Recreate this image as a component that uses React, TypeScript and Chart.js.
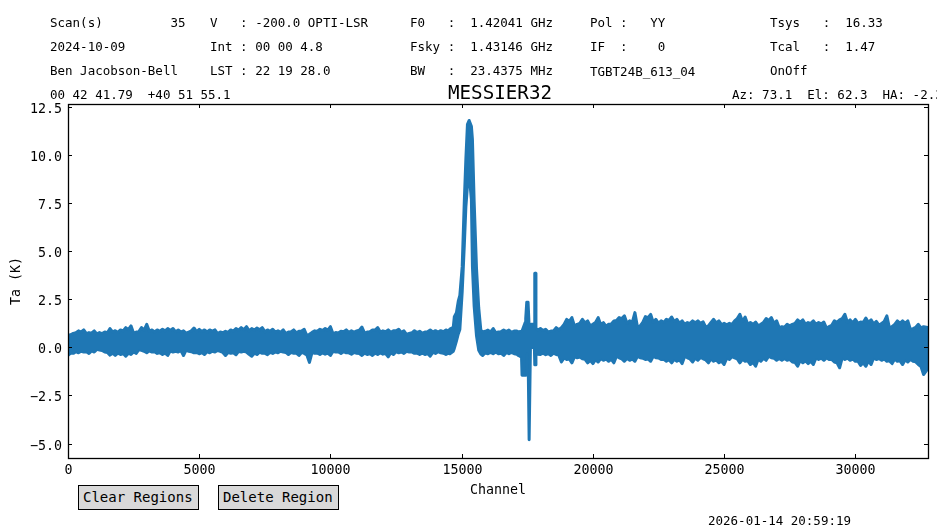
import { useEffect, useRef } from "react"
import { Chart, registerables } from "chart.js"

Chart.register(...registerables)

const MONO = "'DejaVu Sans Mono'"
const LINE_COLOR = "#1f77b4"

const channels = [
  0, 100, 200, 300, 400, 500, 600, 700, 800, 900, 1000, 1100, 1200, 1300, 1400, 1500, 1600, 1700, 1800, 1900,
  2000, 2100, 2200, 2300, 2400, 2500, 2600, 2700, 2800, 2900, 3000, 3100, 3200, 3300, 3400, 3500, 3600, 3700, 3800, 3900,
  4000, 4100, 4200, 4300, 4400, 4500, 4600, 4700, 4800, 4900, 5000, 5100, 5200, 5300, 5400, 5500, 5600, 5700, 5800, 5900,
  6000, 6100, 6200, 6300, 6400, 6500, 6600, 6700, 6800, 6900, 7000, 7100, 7200, 7300, 7400, 7500, 7600,
  7700, 7800, 7900, 8000, 8100, 8200, 8300, 8400, 8500, 8600, 8700, 8800, 8900, 9000, 9100, 9200, 9300, 9400, 9500, 9600,
  9700, 9800, 9900, 10000, 10100, 10200, 10300, 10400, 10500, 10600, 10700, 10800, 10900, 11000, 11100, 11200, 11300, 11400,
  11500, 11600, 11700, 11800, 11900, 12000, 12100, 12200, 12300, 12400, 12500, 12600, 12700, 12800, 12900, 13000, 13100, 13200,
  13300, 13400, 13500, 13600, 13700, 13800, 13900, 14000, 14100, 14200, 14300, 14400,
  // HI line
  14500, 14550, 14680, 14720, 14800, 14870, 14930, 15020, 15100, 15160, 15220, 15285, 15370, 15410, 15475, 15565, 15650, 15730,
  15800, 15900, 16000, 16100, 16200, 16300, 16400, 16500, 16600, 16700, 16800, 16900, 17000,
  // RFI spikes
  17100, 17160, 17280, 17300, 17420, 17440, 17480, 17530, 17570, 17585, 17620, 17650, 17770, 17785, 17815, 17830, 17900,
  18000, 18100, 18200, 18300, 18400, 18500, 18600, 18700, 18800, 18900, 19000, 19100, 19200, 19300, 19400, 19500, 19600, 19700, 19800, 19900,
  20000, 20100, 20200, 20300, 20400, 20500, 20600, 20700, 20800, 20900, 21000, 21100, 21200, 21300, 21400, 21500, 21600, 21700, 21800, 21900,
  22000, 22100, 22200, 22300, 22400, 22500, 22600, 22700, 22800, 22900, 23000, 23100, 23200, 23300, 23400, 23500, 23600, 23700, 23800, 23900,
  24000, 24100, 24200, 24300, 24400, 24500, 24600, 24700, 24800, 24900, 25000,
  25100, 25200, 25300, 25400, 25500, 25600, 25700, 25800, 25900, 26000, 26100, 26200, 26300, 26400, 26500, 26600, 26700, 26800, 26900, 27000,
  27100, 27200, 27300, 27400, 27500, 27600, 27700, 27800, 27900, 28000, 28100, 28200, 28300, 28400, 28500, 28600, 28700, 28800, 28900, 29000,
  29100, 29200, 29300, 29400, 29500, 29600, 29700, 29800, 29900, 30000, 30100, 30200, 30300, 30400, 30500, 30600, 30700, 30800, 30900, 31000,
  31100, 31200, 31300, 31400, 31500, 31600, 31700, 31800, 31900, 32000, 32100, 32200, 32300, 32400, 32500, 32600, 32768,
]

const upperTa = [
  0.63, 0.66, 0.73, 0.76, 0.86, 0.8, 0.91, 0.72, 0.77, 0.74, 0.86, 0.7, 0.77, 0.72, 0.8, 0.76, 0.98, 0.8, 0.87, 0.78,
  0.91, 0.86, 1.03, 0.92, 1.12, 0.74, 0.8, 0.82, 1.03, 0.9, 1.2, 0.84, 0.91, 0.8, 0.91, 0.84, 0.94, 0.86, 0.98, 0.88,
  0.98, 0.82, 0.91, 0.8, 0.86, 0.74, 0.8, 0.86, 1.01, 0.82, 0.94, 0.83, 0.91, 0.8, 0.91, 0.85, 0.91, 0.72, 0.8, 0.76,
  0.84, 0.78, 0.91, 0.85, 0.98, 0.9, 1.03, 0.92, 1.08, 0.86, 0.98, 0.9, 1.01, 0.92, 1.03, 0.82, 0.91,
  0.84, 0.94, 0.8, 0.86, 0.78, 0.91, 0.72, 0.8, 0.82, 0.91, 0.76, 0.84, 0.85, 0.94, 0.62, 0.68, 0.78, 0.86, 0.84, 0.94,
  0.88, 0.98, 0.9, 1.08, 0.7, 0.77, 0.75, 0.84, 0.82, 0.91, 0.78, 0.86, 0.8, 0.86, 0.9, 1.06, 0.74, 0.8,
  0.82, 0.91, 0.9, 1.03, 0.8, 0.86, 0.82, 0.91, 0.78, 0.86, 0.86, 0.94, 0.78, 0.86, 0.68, 0.73, 0.76, 0.87,
  0.78, 0.84, 0.74, 0.8, 0.82, 0.91, 0.8, 0.87, 0.8, 0.87, 0.82, 0.91,
  0.85, 0.95, 1.05, 1.6, 1.8, 2.4, 2.7, 4.2, 7.6, 9.8, 11.6, 11.8, 11.5, 10.8, 7.6, 4.1, 2.05, 0.9,
  0.8, 0.84, 0.9, 0.8, 0.98, 0.76, 0.8, 0.82, 0.9, 0.82, 0.9, 0.78, 0.85,
  0.85, 0.8, 0.85, 0.85, 1.3, 1.5, 2.35, 2.35, 1.1, 1.1, 1.0, 1.2, 1.2, 3.85, 3.85, 1.0, 0.9,
  0.98, 0.88, 0.94, 0.8, 0.85, 0.86, 1.03, 0.92, 1.03, 1.2, 1.46, 1.35, 1.55, 1.1, 1.2, 1.25, 1.46, 1.28, 1.38, 1.12,
  1.2, 1.3, 1.55, 1.18, 1.29, 1.1, 1.2, 1.22, 1.38, 1.4, 1.55, 1.5, 1.64, 1.25, 1.38, 1.3, 1.81, 1.05, 1.12, 1.3,
  1.6, 1.55, 1.72, 1.3, 1.46, 1.25, 1.38, 1.3, 1.46, 1.4, 1.58, 1.35, 1.46, 1.25, 1.38, 1.2, 1.29, 1.25, 1.38, 1.28,
  1.38, 1.25, 1.33, 1.05, 1.12, 1.3, 1.46, 1.28, 1.38, 1.18, 1.25,
  1.18, 1.25, 1.2, 1.38, 1.5, 1.72, 1.35, 1.58, 1.2, 1.29, 1.2, 1.32, 1.12, 1.2, 1.3, 1.5, 1.4, 1.55, 1.25, 1.38,
  1.02, 1.08, 1.05, 1.2, 1.12, 1.2, 1.25, 1.43, 1.3, 1.43, 1.2, 1.29, 1.25, 1.38, 1.2, 1.29, 1.22, 1.32, 1.0, 1.08,
  1.15, 1.38, 1.3, 1.43, 1.5, 1.72, 1.3, 1.43, 1.28, 1.46, 1.25, 1.32, 1.3, 1.53, 1.3, 1.43, 1.22, 1.35, 1.15, 1.25,
  1.35, 1.64, 1.0, 1.08, 1.2, 1.38, 1.25, 1.38, 1.25, 1.38, 0.92, 0.98, 1.05, 1.2, 1.02, 1.08, 1.03,
]

const lowerTa = [
  -0.42, -0.3, -0.31, -0.22, -0.28, -0.2, -0.24, -0.22, -0.31, -0.18, -0.24, -0.1, -0.13, -0.16, -0.24, -0.26, -0.4, -0.3, -0.42, -0.3,
  -0.37, -0.32, -0.46, -0.3, -0.37, -0.24, -0.31, -0.12, -0.15, -0.2, -0.28, -0.18, -0.24, -0.22, -0.31, -0.28, -0.37, -0.3, -0.42, -0.18,
  -0.24, -0.2, -0.24, -0.16, -0.42, -0.14, -0.2, -0.22, -0.28, -0.26, -0.33, -0.27, -0.37, -0.22, -0.28, -0.2, -0.24, -0.16, -0.2, -0.26,
  -0.42, -0.26, -0.31, -0.28, -0.38, -0.2, -0.24, -0.2, -0.24, -0.36, -0.46, -0.3, -0.37, -0.25, -0.31, -0.3, -0.38,
  -0.26, -0.31, -0.23, -0.28, -0.2, -0.24, -0.26, -0.37, -0.26, -0.31, -0.3, -0.42, -0.26, -0.31, -0.4, -0.78, -0.26, -0.31, -0.3, -0.37,
  -0.28, -0.35, -0.3, -0.42, -0.2, -0.24, -0.24, -0.31, -0.22, -0.28, -0.28, -0.35, -0.26, -0.31, -0.32, -0.42, -0.3, -0.37,
  -0.32, -0.42, -0.3, -0.37, -0.28, -0.35, -0.32, -0.49, -0.28, -0.37, -0.22, -0.28, -0.24, -0.31, -0.2, -0.24, -0.24, -0.31,
  -0.3, -0.37, -0.3, -0.37, -0.32, -0.46, -0.26, -0.31, -0.22, -0.28, -0.3, -0.37,
  -0.3, -0.33, -0.2, -0.05, 0.33, 0.7, 0.93, 2.9, 5.3, 7.3, 8.4, 9.0, 7.7, 4.2, 2.15, 0.6, -0.15, -0.35,
  -0.42, -0.28, -0.33, -0.26, -0.33, -0.24, -0.33, -0.3, -0.42, -0.26, -0.33, -0.26, -0.33,
  -0.35, -0.42, -0.5, -1.45, -1.45, -0.35, -0.25, -0.3, -4.8, -4.8, 0.0, 0.0, 0.0, -0.9, -0.9, -0.3, -0.35,
  -0.37, -0.3, -0.38, -0.32, -0.42, -0.3, -0.37, -0.4, -0.76, -0.55, -0.63, -0.6, -0.8, -0.48, -0.54, -0.5, -0.59, -0.62, -0.8, -0.68,
  -0.84, -0.64, -0.76, -0.58, -0.67, -0.6, -0.72, -0.62, -0.8, -0.46, -0.54, -0.6, -0.72, -0.58, -0.67, -0.6, -0.72, -0.46, -0.54, -0.56,
  -0.63, -0.6, -0.72, -0.46, -0.54, -0.55, -0.63, -0.62, -0.72, -0.64, -0.8, -0.62, -0.72, -0.65, -0.84, -0.46, -0.54, -0.6, -0.76, -0.56,
  -0.67, -0.52, -0.59, -0.65, -0.8, -0.6, -0.72, -0.65, -0.8, -0.72, -0.89,
  -0.56, -0.63, -0.48, -0.54, -0.6, -0.8, -0.62, -0.72, -0.7, -0.89, -0.78, -0.98, -0.6, -0.72, -0.56, -0.67, -0.46, -0.54, -0.56, -0.67,
  -0.58, -0.67, -0.58, -0.67, -0.62, -0.76, -0.78, -0.98, -0.68, -0.8, -0.7, -0.84, -0.72, -0.89, -0.55, -0.63, -0.56, -0.67, -0.54, -0.63,
  -0.62, -0.76, -0.8, -1.06, -0.54, -0.63, -0.56, -0.67, -0.6, -0.72, -0.72, -0.94, -0.8, -0.98, -0.7, -0.89, -0.54, -0.63, -0.58, -0.67,
  -0.6, -0.72, -0.7, -0.84, -0.6, -0.72, -0.7, -0.89, -0.64, -0.76, -0.62, -0.72, -0.75, -0.89, -1.0, -1.41, -1.1,
]

const xTicks = [0, 5000, 10000, 15000, 20000, 25000, 30000]
const yTicks = [-5, -2.5, 0, 2.5, 5, 7.5, 10, 12.5]
const xTickLabels = ["0", "5000", "10000", "15000", "20000", "25000", "30000"]
const yTickLabels = ["\u22125.0", "\u22122.5", "0.0", "2.5", "5.0", "7.5", "10.0", "12.5"]

const headerRows = [
  { x: 50, y: 23, text: "Scan(s)         35" },
  { x: 50, y: 47, text: "2024-10-09" },
  { x: 50, y: 71, text: "Ben Jacobson-Bell" },
  { x: 50, y: 95, text: "00 42 41.79  +40 51 55.1" },
  { x: 210, y: 23, text: "V   : -200.0 OPTI-LSR" },
  { x: 210, y: 47, text: "Int : 00 00 4.8" },
  { x: 210, y: 71, text: "LST : 22 19 28.0" },
  { x: 410, y: 23, text: "F0   :  1.42041 GHz" },
  { x: 410, y: 47, text: "Fsky :  1.43146 GHz" },
  { x: 410, y: 71, text: "BW   :  23.4375 MHz" },
  { x: 590, y: 23, text: "Pol :   YY" },
  { x: 590, y: 47, text: "IF  :    0" },
  { x: 590, y: 72, text: "TGBT24B_613_04" },
  { x: 770, y: 23, text: "Tsys   :  16.33" },
  { x: 770, y: 47, text: "Tcal   :  1.47" },
  { x: 770, y: 71, text: "OnOff" },
  { x: 732, y: 95, text: "Az: 73.1  El: 62.3  HA: -2.3" },
  { x: 708, y: 521, text: "2026-01-14 20:59:19" },
]

const buttons = [
  { x: 78, text: "Clear Regions" },
  { x: 218, text: "Delete Region" },
]

// matplotlib style frame, inward ticks on all four sides and the tick labels
const frameTicks = {
  id: "frameTicks",
  afterDraw(chart: Chart) {
    const { ctx, chartArea, scales } = chart
    const { left, right, top, bottom } = chartArea
    const len = 4
    ctx.save()
    ctx.strokeStyle = "#000"
    ctx.fillStyle = "#000"
    ctx.lineWidth = 1
    ctx.font = `13.3px ${MONO}`
    ctx.textBaseline = "alphabetic"
    ctx.beginPath()
    ctx.textAlign = "center"
    xTicks.forEach((v, i) => {
      const px = Math.round(scales.x.getPixelForValue(v)) + 0.5
      ctx.moveTo(px, top)
      ctx.lineTo(px, top + len)
      ctx.moveTo(px, bottom)
      ctx.lineTo(px, bottom - len)
      ctx.fillText(xTickLabels[i], px, bottom + 16)
    })
    ctx.textAlign = "right"
    yTicks.forEach((v, i) => {
      const py = Math.round(scales.y.getPixelForValue(v)) + 0.5
      ctx.moveTo(left, py)
      ctx.lineTo(left + len, py)
      ctx.moveTo(right, py)
      ctx.lineTo(right - len, py)
      ctx.fillText(yTickLabels[i], left - 6, py + 5)
    })
    ctx.stroke()
    ctx.lineWidth = 1.3
    ctx.strokeRect(left + 0.5, top + 0.5, right - left, bottom - top)
    ctx.restore()
  },
}

const traceStyle = {
  borderColor: LINE_COLOR,
  backgroundColor: LINE_COLOR,
  borderWidth: 3,
  borderJoinStyle: "round",
  borderCapStyle: "round",
  pointRadius: 0,
}

export default function App() {
  const chartRef = useRef<HTMLCanvasElement>(null)
  const chartInstance = useRef<Chart | null>(null)

  useEffect(() => {
    if (!chartRef.current) return
    const ctx = chartRef.current.getContext("2d")
    if (!ctx) return

    chartInstance.current = new Chart(ctx, {
      type: "line",
      data: {
        datasets: [
          {
            ...traceStyle,
            label: "Ta upper edge",
            data: channels.map((c, i) => ({ x: c, y: upperTa[i] })),
            fill: "+1",
          },
          {
            ...traceStyle,
            label: "Ta lower edge",
            data: channels.map((c, i) => ({ x: c, y: lowerTa[i] })),
            fill: false,
          },
        ],
      },
      plugins: [frameTicks],
      options: {
        responsive: false,
        animation: false,
        devicePixelRatio: 1,
        layout: { autoPadding: false, padding: { left: 9, right: 9, top: 104, bottom: 32 } },
        plugins: {
          legend: { display: false },
          tooltip: { enabled: false },
        },
        scales: {
          x: {
            type: "linear",
            min: 0,
            max: 32768,
            afterFit: (scale) => {
              scale.height = 41
            },
            grid: { display: false },
            border: { display: false },
            ticks: { display: false },
            title: {
              display: true,
              text: "Channel",
              color: "#000",
              font: { family: MONO, size: 13.3 },
              padding: 0,
            },
          },
          y: {
            min: -5.75,
            max: 12.656,
            afterFit: (scale) => {
              scale.width = 59
            },
            grid: { display: false },
            border: { display: false },
            ticks: { display: false },
            title: {
              display: true,
              text: "Ta (K)",
              color: "#000",
              font: { family: MONO, size: 13.3 },
              padding: 0,
            },
          },
        },
      },
    })

    return () => {
      chartInstance.current?.destroy()
    }
  }, [])

  return (
    <div style={{ position: "fixed", left: 0, top: 0, width: 937, height: 531, overflow: "hidden", background: "#fff" }}>
      <canvas ref={chartRef} width={937} height={531} style={{ display: "block" }} />
      <div
        style={{
          position: "absolute",
          left: 400,
          width: 200,
          top: 81,
          height: 24,
          lineHeight: "24px",
          textAlign: "center",
          fontFamily: MONO,
          fontSize: 19.2,
          color: "#000",
        }}
      >
        MESSIER32
      </div>
      {headerRows.map((row) => (
        <div
          key={row.text}
          style={{
            position: "absolute",
            left: row.x,
            top: row.y - 8,
            height: 16,
            lineHeight: "16px",
            fontFamily: MONO,
            fontSize: 12.5,
            whiteSpace: "pre",
            color: "#000",
          }}
        >
          {row.text}
        </div>
      ))}
      {buttons.map((b) => (
        <div
          key={b.text}
          style={{
            position: "absolute",
            left: b.x,
            top: 485,
            width: 115,
            height: 23,
            lineHeight: "22px",
            paddingLeft: 4,
            background: "#d9d9d9",
            border: "1px solid #000",
            fontFamily: MONO,
            fontSize: 14,
            whiteSpace: "pre",
            color: "#000",
          }}
        >
          {b.text}
        </div>
      ))}
    </div>
  )
}
